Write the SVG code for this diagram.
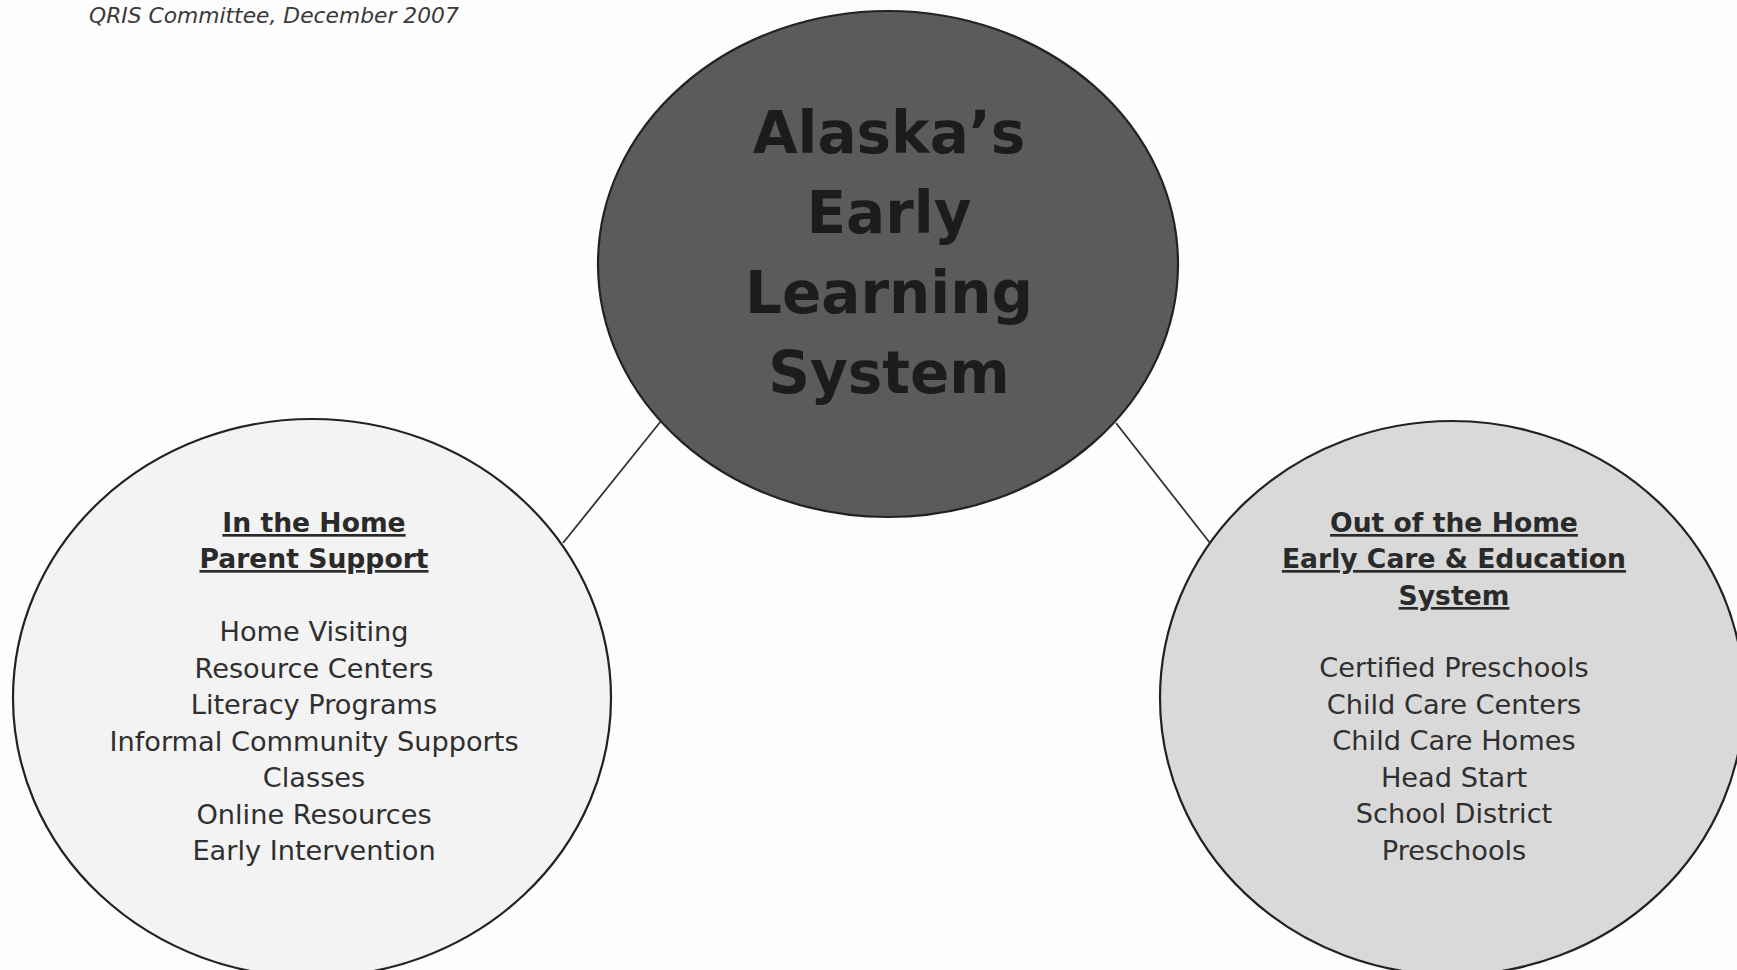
<svg xmlns="http://www.w3.org/2000/svg" width="1737" height="970" viewBox="0 0 1737 970">
<style>
  .bg { fill: #fdfdfd; }
  .node { stroke: #222; stroke-width: 2.2; }
  .conn { stroke: #333; stroke-width: 1.8; fill: none; }
  .hdr { font-family: "DejaVu Sans", Verdana, sans-serif; font-style: italic; font-size: 21.8px; fill: #3a3a3a; }
  .title { font-family: "DejaVu Sans", Verdana, sans-serif; font-weight: bold; font-size: 58px; fill: #1c1c1c; text-anchor: middle; }
  .head { font-family: "DejaVu Sans", Verdana, sans-serif; font-weight: bold; font-size: 26.6px; fill: #2a2a2a; text-anchor: middle; text-decoration: underline; }
  .item { font-family: "DejaVu Sans", Verdana, sans-serif; font-size: 27.2px; fill: #2f2f2f; text-anchor: middle; }
</style>
<rect class="bg" x="0" y="0" width="1737" height="970"/>
<text class="hdr" x="89" y="23">QRIS Committee, December 2007</text>
<g id="connectors">
  <line class="conn" x1="661" y1="421" x2="563" y2="543"/>
  <line class="conn" x1="1116" y1="423" x2="1210" y2="543"/>
</g>
<g id="center">
  <ellipse class="node" cx="888" cy="264" rx="290" ry="253" fill="#5b5b5b"/>
  <text class="title" x="889" y="153">Alaska’s</text>
  <text class="title" x="889" y="233">Early</text>
  <text class="title" x="889" y="313">Learning</text>
  <text class="title" x="889" y="393">System</text>
</g>
<g id="in-home">
  <ellipse class="node" cx="312" cy="698" rx="299" ry="279" fill="#f3f3f3"/>
  <text class="head" x="314" y="532">In the Home</text>
  <text class="head" x="314" y="568">Parent Support</text>
  <text class="item" x="314" y="641">Home Visiting</text>
  <text class="item" x="314" y="678">Resource Centers</text>
  <text class="item" x="314" y="714">Literacy Programs</text>
  <text class="item" x="314" y="751">Informal Community Supports</text>
  <text class="item" x="314" y="787">Classes</text>
  <text class="item" x="314" y="824">Online Resources</text>
  <text class="item" x="314" y="860">Early Intervention</text>
</g>
<g id="out-of-home">
  <ellipse class="node" cx="1452" cy="698" rx="292" ry="277" fill="#d9d9d9"/>
  <text class="head" x="1454" y="532">Out of the Home</text>
  <text class="head" x="1454" y="568">Early Care &amp; Education</text>
  <text class="head" x="1454" y="605">System</text>
  <text class="item" x="1454" y="677">Certified Preschools</text>
  <text class="item" x="1454" y="714">Child Care Centers</text>
  <text class="item" x="1454" y="750">Child Care Homes</text>
  <text class="item" x="1454" y="787">Head Start</text>
  <text class="item" x="1454" y="823">School District</text>
  <text class="item" x="1454" y="860">Preschools</text>
</g>
</svg>
